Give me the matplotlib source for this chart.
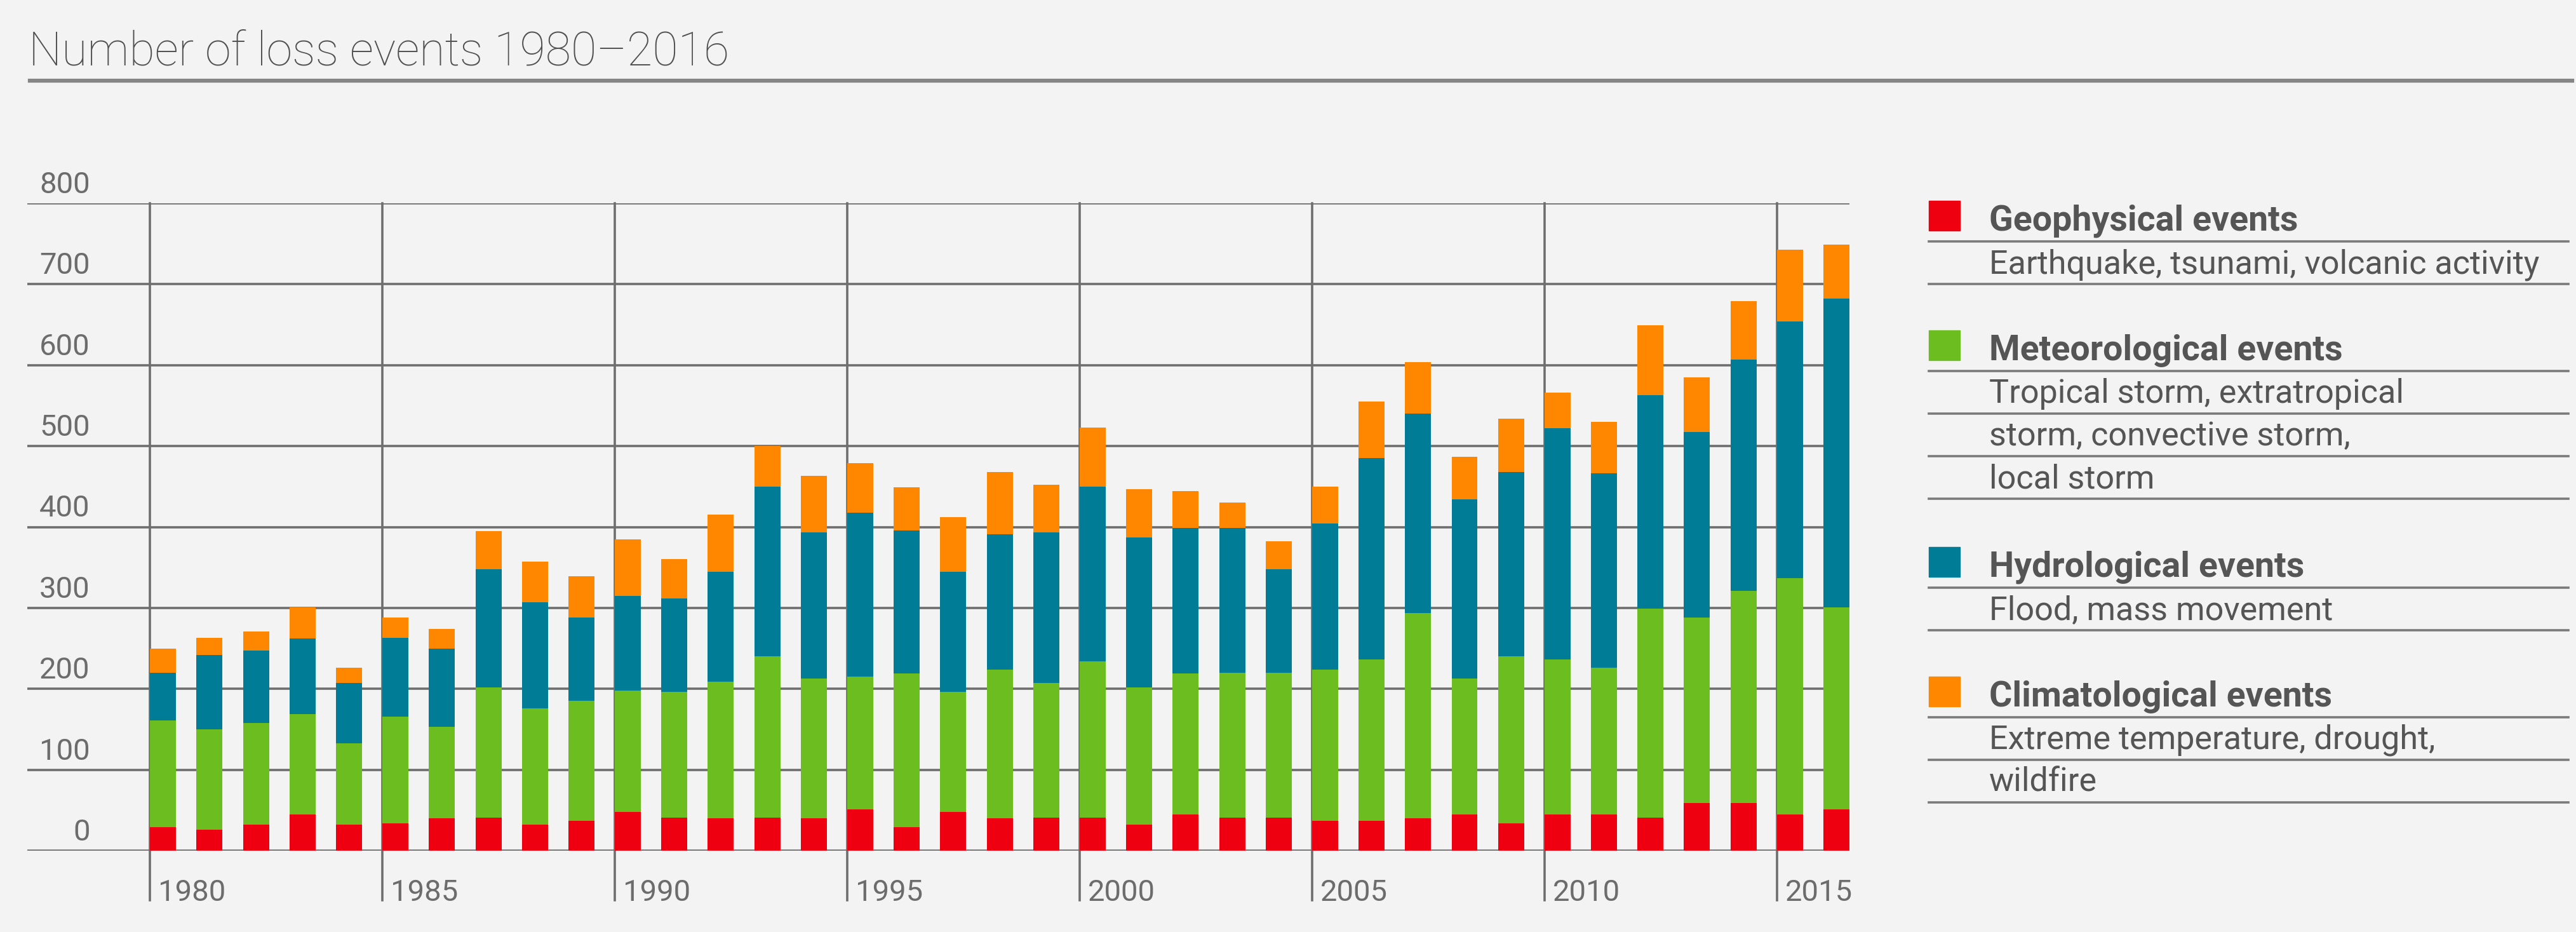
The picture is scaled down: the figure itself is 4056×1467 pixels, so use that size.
import matplotlib
matplotlib.use("Agg")
import matplotlib.pyplot as plt
from matplotlib.patches import Rectangle
from matplotlib.lines import Line2D

years = list(range(1980, 2017))
geophysical = [29, 26, 32, 45, 32, 34, 40, 41, 32, 37, 48, 41, 40, 41, 40, 51, 29, 48, 40, 41,
               41, 32, 45, 41, 41, 37, 37, 40, 45, 34, 45, 45, 41, 59, 59, 45, 51]
meteorological = [132, 124, 126, 124, 101, 132, 113, 161, 144, 148, 150, 155, 169, 199, 173, 164, 190, 148, 184, 166,
                  193, 170, 174, 179, 179, 187, 199, 254, 168, 206, 191, 181, 258, 229, 262, 292, 250]
hydrological = [59, 92, 89, 93, 74, 97, 97, 146, 131, 103, 117, 116, 136, 210, 180, 203, 177, 149, 167, 186,
                216, 185, 180, 179, 128, 180, 249, 246, 221, 228, 286, 240, 264, 229, 286, 317, 381]
climatological = [30, 21, 24, 39, 19, 25, 24, 47, 50, 51, 70, 48, 70, 50, 70, 61, 53, 67, 77, 59,
                  73, 60, 45, 31, 34, 46, 70, 64, 53, 66, 44, 64, 86, 68, 72, 89, 67]

y_ticks = [0, 100, 200, 300, 400, 500, 600, 700, 800]
x_label_years = [1980, 1985, 1990, 1995, 2000, 2005, 2010, 2015]

title = "Number of loss events 1980\u20132016"
legend_heads = ["Geophysical events", "Meteorological events", "Hydrological events", "Climatological events"]
legend_desc = [["Earthquake, tsunami, volcanic activity"],
               ["Tropical storm, extratropical", "storm, convective storm,", "local storm"],
               ["Flood, mass movement"],
               ["Extreme temperature, drought,", "wildfire"]]
colors = ["#EE0010", "#6CBD1F", "#007C96", "#FF8700"]

W, H = 4056, 1467
BG = "#F3F3F3"
GRID = "#6E6E6E"
TICK = "#6C6C6C"
LEG = "#555555"
FONT = "Roboto"

fig = plt.figure(figsize=(W / 100, H / 100), dpi=100, facecolor=BG)

def fx(px):
    return px / W

def fy(py):
    return 1 - py / H

# axes placement (pixels)
ax_left, ax_right, ax_top, ax_bottom = 43, 2912, 320, 1339
ax = fig.add_axes([fx(ax_left), fy(ax_bottom), fx(ax_right - ax_left), (ax_bottom - ax_top) / H])
ax.set_facecolor("none")
bw = 0.56
ax.set_xlim(1980 - bw / 2 - 2.64, 2016 + bw / 2)
ax.set_ylim(0, 800)
for s in ax.spines.values():
    s.set_visible(False)
ax.set_xticks([])
ax.set_yticks([])

for yv in y_ticks:
    ax.axhline(yv, color=GRID, lw=2.6, zorder=1)
    ax.text(1978.43, yv + 12.6, str(yv), ha="right", va="baseline", fontsize=34,
            color=TICK, family=FONT)

for yr in x_label_years:
    xl = yr - bw / 2
    ax.add_line(Line2D([xl, xl], [800, -61], color=GRID, lw=2.6, zorder=1, clip_on=False))
    ax.text(xl + 0.18, -62, str(yr), ha="left", va="baseline", fontsize=34,
            color=TICK, family=FONT, clip_on=False)

bottom = [0] * len(years)
for series, col in zip([geophysical, meteorological, hydrological, climatological], colors):
    ax.bar(years, series, width=bw, bottom=bottom, color=col, edgecolor="none", zorder=3)
    bottom = [b + v for b, v in zip(bottom, series)]

# title
fig.text(fx(45), fy(103), title, ha="left", va="baseline", fontsize=53, color="#505050",
         family=FONT, fontweight="light")
fig.add_artist(Line2D([fx(47), fx(4050)], [fy(127), fy(127)], color="#858585", lw=4.5))

# legend
head_base = [363, 567, 908, 1112]
for head, descs, col, hb in zip(legend_heads, legend_desc, colors, head_base):
    fig.add_artist(Rectangle((fx(3037), fy(hb)), fx(49), 47 / H, color=col,
                             transform=fig.transFigure))
    fig.text(fx(3132), fy(hb), head, ha="left", va="baseline", fontsize=40, color=LEG,
             family=FONT, fontweight="bold")
    ly = hb + 17
    fig.add_artist(Line2D([fx(3037), fx(4044)], [fy(ly), fy(ly)], color="#7A7A7A", lw=2.6))
    for d in descs:
        fig.text(fx(3132), fy(ly + 50), d, ha="left", va="baseline", fontsize=37.5, color=LEG,
                 family=FONT)
        ly += 67
        fig.add_artist(Line2D([fx(3037), fx(4044)], [fy(ly), fy(ly)], color="#7A7A7A", lw=2.6))

fig.savefig("out.png", dpi=100, facecolor=BG)
